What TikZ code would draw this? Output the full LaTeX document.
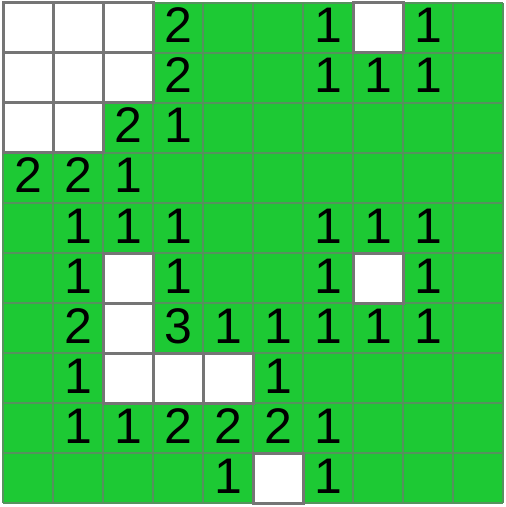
\documentclass[tikz,border=0pt]{standalone}
\usepackage{fontspec}
\setmainfont{Liberation Sans}
\definecolor{cellgreen}{HTML}{1DC934}
\definecolor{gridgray}{HTML}{757575}
\begin{document}
\begin{tikzpicture}[x=1bp,y=-1bp,
  gridband/.style={fill=gridgray!65!cellgreen},
  borderband/.style={fill=gridgray},
  num/.style={anchor=base,inner sep=0pt,font=\fontsize{50bp}{50bp}\selectfont}]
\useasboundingbox (0,0) rectangle (506,507);
\fill[white] (0,0) rectangle (506,507);
\fill[cellgreen] (3,3) rectangle (503,503);
% grid lines as thin filled bands
\foreach \k in {0,...,10}{
  \fill[gridband] ({2.3+50*\k},3) rectangle ++(1.4,500);
  \fill[gridband] (3,{2.3+50*\k}) rectangle ++(500,1.4);
}
% white (open) cells: row col -- border pass, then interior pass
\def\opencells{0/0,0/1,0/2,0/7,1/0,1/1,1/2,2/0,2/1,5/2,5/7,6/2,7/2,7/3,7/4,9/5}
\foreach \r/\c in \opencells{
  \fill[borderband] ({1.5+50*\c},{1.5+50*\r}) rectangle ++(53,53);
}
\foreach \r/\c in \opencells{
  \fill[white] ({4.5+50*\c},{4.5+50*\r}) rectangle ++(47,47);
}
% numbers: row/col/value
\foreach \r/\c/\v [count=\i] in {0/3/2,0/6/1,0/8/1,
  1/3/2,1/6/1,1/7/1,1/8/1,
  2/2/2,2/3/1,
  3/0/2,3/1/2,3/2/1,
  4/1/1,4/2/1,4/3/1,4/6/1,4/7/1,4/8/1,
  5/1/1,5/3/1,5/6/1,5/8/1,
  6/1/2,6/3/3,6/4/1,6/5/1,6/6/1,6/7/1,6/8/1,
  7/1/1,7/5/1,
  8/1/1,8/2/1,8/3/2,8/4/2,8/5/2,8/6/1,
  9/4/1,9/6/1}{
  \node[num] (n\i) at ({28+50*\c},{43+50*\r}) {\v};
}
\end{tikzpicture}
\end{document}
